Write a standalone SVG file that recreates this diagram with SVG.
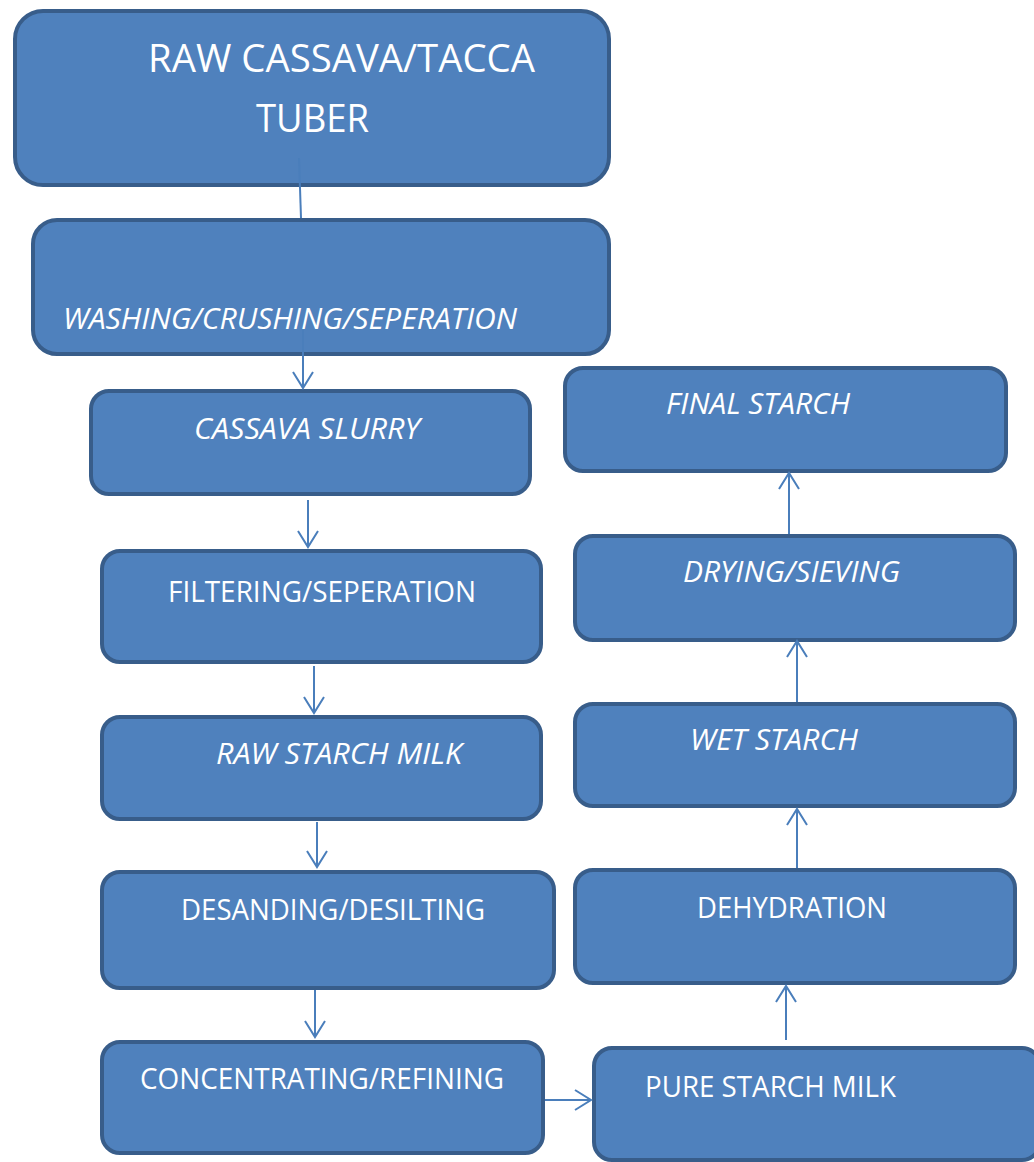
<svg xmlns="http://www.w3.org/2000/svg" width="1034" height="1162" viewBox="0 0 1034 1162">
<style>
.box{fill:#4F81BD;stroke:#385D8A;stroke-width:4}
.t{fill:#fff;font-family:"Open Sans","Liberation Sans",sans-serif;font-size:29px}
.i{font-style:italic}
.c{fill:none;stroke:#4A7EBB;stroke-width:2}
</style>
<defs>
<marker id="ah" viewBox="0 0 20 24" refX="18" refY="12" markerWidth="20" markerHeight="24" markerUnits="userSpaceOnUse" orient="auto">
<path d="M2,2 L18,12 L2,22" fill="none" stroke="#4A7EBB" stroke-width="2"/>
</marker>
</defs>
<g id="n1"><rect class="box" x="15" y="11" width="594" height="174" rx="28"/>
<text class="t" x="148" y="72" style="font-size:38px" textLength="387" lengthAdjust="spacingAndGlyphs">RAW CASSAVA/TACCA</text>
<text class="t" x="256" y="132" style="font-size:38px" textLength="113" lengthAdjust="spacingAndGlyphs">TUBER</text></g>
<g id="n2"><rect class="box" x="33" y="220" width="576" height="134" rx="24"/>
<text class="t i" x="63" y="329" textLength="454" lengthAdjust="spacingAndGlyphs">WASHING/CRUSHING/SEPERATION</text></g>
<g id="n3"><rect class="box" x="91" y="391" width="439" height="103" rx="18"/>
<text class="t i" x="194" y="439" textLength="226" lengthAdjust="spacingAndGlyphs">CASSAVA SLURRY</text></g>
<g id="n4"><rect class="box" x="102" y="551" width="439" height="111" rx="18"/>
<text class="t" x="168" y="602" textLength="308" lengthAdjust="spacingAndGlyphs">FILTERING/SEPERATION</text></g>
<g id="n5"><rect class="box" x="102" y="717" width="439" height="102" rx="18"/>
<text class="t i" x="216" y="764" textLength="246" lengthAdjust="spacingAndGlyphs">RAW STARCH MILK</text></g>
<g id="n6"><rect class="box" x="102" y="872" width="452" height="116" rx="18"/>
<text class="t" x="181" y="920" textLength="304" lengthAdjust="spacingAndGlyphs">DESANDING/DESILTING</text></g>
<g id="n7"><rect class="box" x="102" y="1042" width="441" height="111" rx="18"/>
<text class="t" x="140" y="1089" textLength="364" lengthAdjust="spacingAndGlyphs">CONCENTRATING/REFINING</text></g>
<g id="n8"><rect class="box" x="594" y="1048" width="446" height="112" rx="18"/>
<text class="t" x="645" y="1097" textLength="251" lengthAdjust="spacingAndGlyphs">PURE STARCH MILK</text></g>
<g id="n9"><rect class="box" x="575" y="870" width="440" height="113" rx="18"/>
<text class="t" x="697" y="918" textLength="190" lengthAdjust="spacingAndGlyphs">DEHYDRATION</text></g>
<g id="n10"><rect class="box" x="575" y="704" width="440" height="102" rx="18"/>
<text class="t i" x="690" y="750" textLength="168" lengthAdjust="spacingAndGlyphs">WET STARCH</text></g>
<g id="n11"><rect class="box" x="575" y="536" width="440" height="104" rx="18"/>
<text class="t i" x="683" y="582" textLength="217" lengthAdjust="spacingAndGlyphs">DRYING/SIEVING</text></g>
<g id="n12"><rect class="box" x="565" y="368" width="441" height="103" rx="18"/>
<text class="t i" x="666" y="414" textLength="184" lengthAdjust="spacingAndGlyphs">FINAL STARCH</text></g>
<g id="connectors">
<line class="c" x1="299" y1="158" x2="301" y2="218"/>
<line class="c" x1="303" y1="330" x2="303" y2="388" marker-end="url(#ah)"/>
<line class="c" x1="308" y1="500" x2="308" y2="547" marker-end="url(#ah)"/>
<line class="c" x1="314" y1="666" x2="314" y2="713" marker-end="url(#ah)"/>
<line class="c" x1="317" y1="822" x2="317" y2="867" marker-end="url(#ah)"/>
<line class="c" x1="315" y1="990" x2="315" y2="1037" marker-end="url(#ah)"/>
<line class="c" x1="545" y1="1100" x2="591" y2="1100" marker-end="url(#ah)"/>
<line class="c" x1="786" y1="1040" x2="786" y2="986" marker-end="url(#ah)"/>
<line class="c" x1="797" y1="868" x2="797" y2="809" marker-end="url(#ah)"/>
<line class="c" x1="797" y1="702" x2="797" y2="641" marker-end="url(#ah)"/>
<line class="c" x1="789" y1="534" x2="789" y2="473" marker-end="url(#ah)"/>
</g>
</svg>
